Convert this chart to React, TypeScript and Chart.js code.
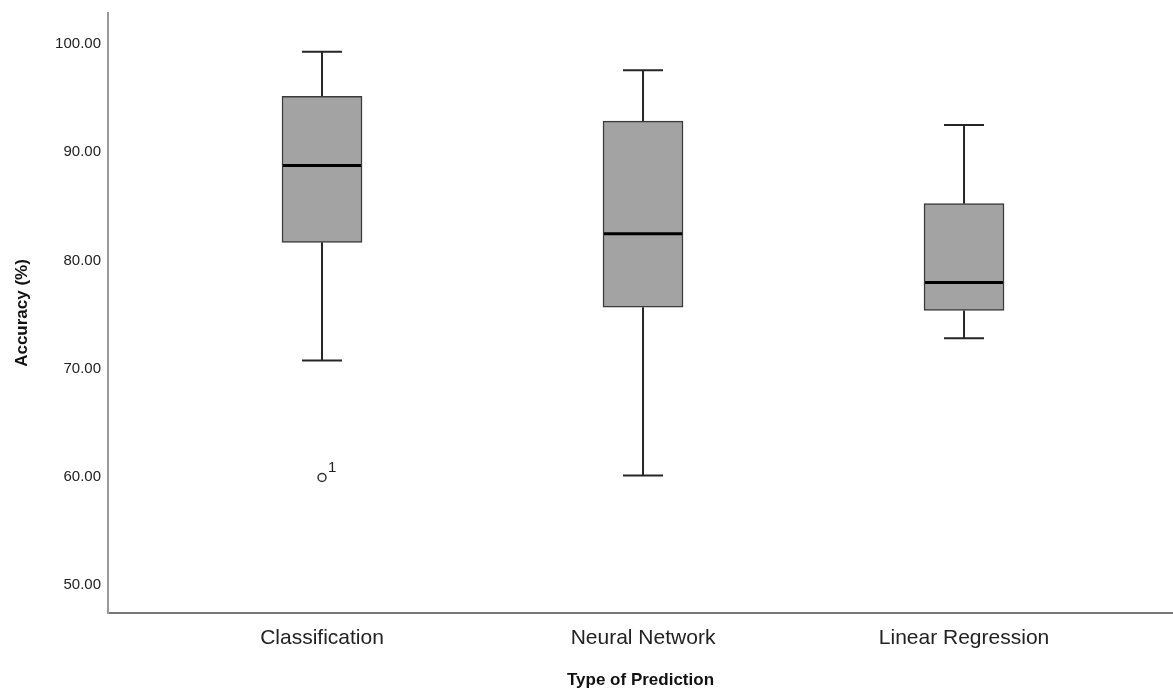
import React, { useEffect, useRef } from "react";
import { Chart, registerables } from "chart.js";

Chart.register(...registerables);

const categories = ["Classification", "Neural Network", "Linear Regression"];
const whiskerLow = [70.76, 60.12, 72.81];
const quartile1 = [81.67, 75.67, 75.37];
const medians = [88.77, 82.47, 77.95];
const quartile3 = [95.17, 92.87, 85.24];
const whiskerHigh = [99.29, 97.57, 92.5];
const outlierX = [1];
const outlierY = [59.94];
const outlierLabels = ["1"];
const yTicks = [50, 60, 70, 80, 90, 100];
const xPositions = [1, 2, 3];

const FONT = "'Liberation Sans', Arial, sans-serif";

const boxPlugin = {
  id: "boxParts",
  beforeDatasetsDraw(chart: any) {
    const { ctx, scales } = chart;
    const x = scales.x;
    const y = scales.y;
    ctx.save();
    ctx.strokeStyle = "#262626";
    ctx.lineWidth = 2;
    const capHalf = 20;
    xPositions.forEach((xv, i) => {
      const px = x.getPixelForValue(xv);
      const pLow = y.getPixelForValue(whiskerLow[i]);
      const pHigh = y.getPixelForValue(whiskerHigh[i]);
      const pQ1 = y.getPixelForValue(quartile1[i]);
      const pQ3 = y.getPixelForValue(quartile3[i]);
      ctx.beginPath();
      ctx.moveTo(px, pQ3);
      ctx.lineTo(px, pHigh);
      ctx.moveTo(px - capHalf, pHigh);
      ctx.lineTo(px + capHalf, pHigh);
      ctx.moveTo(px, pQ1);
      ctx.lineTo(px, pLow);
      ctx.moveTo(px - capHalf, pLow);
      ctx.lineTo(px + capHalf, pLow);
      ctx.stroke();
    });
    ctx.restore();
  },
  afterDatasetsDraw(chart: any) {
    const { ctx, scales } = chart;
    const x = scales.x;
    const y = scales.y;
    ctx.save();
    ctx.strokeStyle = "#000000";
    ctx.lineWidth = 3;
    const half = 40;
    xPositions.forEach((xv, i) => {
      const px = x.getPixelForValue(xv);
      const pm = y.getPixelForValue(medians[i]);
      ctx.beginPath();
      ctx.moveTo(px - half + 1, pm);
      ctx.lineTo(px + half - 1, pm);
      ctx.stroke();
    });
    ctx.fillStyle = "#222222";
    ctx.font = `15px ${FONT}`;
    ctx.textAlign = "left";
    ctx.textBaseline = "middle";
    outlierX.forEach((xv, i) => {
      const px = x.getPixelForValue(xv);
      const py = y.getPixelForValue(outlierY[i]);
      ctx.fillText(outlierLabels[i], px + 6, py - 10);
    });
    ctx.restore();
  },
};

export default function App() {
  const canvasRef = useRef<HTMLCanvasElement | null>(null);

  useEffect(() => {
    document.body.style.margin = "0";
    const canvas = canvasRef.current;
    if (!canvas) return;
    const chart = new Chart(canvas, {
      type: "bar",
      data: {
        datasets: [
          {
            type: "bar",
            data: xPositions.map((xv, i) => ({ x: xv, y: [quartile1[i], quartile3[i]] })) as any,
            backgroundColor: "#a3a3a3",
            borderColor: "#3a3a3a",
            borderWidth: 1.5,
            borderSkipped: false,
            barThickness: 80,
          } as any,
          {
            type: "scatter",
            data: outlierX.map((xv, i) => ({ x: xv, y: outlierY[i] })),
            pointRadius: 4,
            pointBackgroundColor: "#ffffff",
            pointBorderColor: "#333333",
            pointBorderWidth: 1.5,
          } as any,
        ],
      },
      options: {
        animation: false,
        responsive: false,
        devicePixelRatio: 1,
        layout: { autoPadding: false, padding: { top: 13, right: 0, left: 0, bottom: 0 } },
        plugins: { legend: { display: false }, tooltip: { enabled: false } },
        scales: {
          x: {
            type: "linear",
            offset: false,
            min: 0.3333,
            max: 3.651,
            grid: { display: false, drawTicks: false, offset: false },
            border: { display: true, color: "#777777", width: 2 },
            afterBuildTicks: (scale: any) => {
              scale.ticks = xPositions.map((v) => ({ value: v }));
            },
            afterFit: (scale: any) => {
              scale.height = 80;
              scale.paddingLeft = 0;
              scale.paddingRight = 0;
            },
            ticks: {
              autoSkip: false,
              maxRotation: 0,
              padding: 13,
              color: "#222222",
              font: { family: FONT, size: 21 },
              callback: (v: any) => categories[xPositions.indexOf(Number(v))] ?? "",
            },
            title: {
              display: true,
              text: "Type of Prediction",
              color: "#111111",
              font: { family: FONT, size: 17, weight: "bold" },
              padding: { top: 0, bottom: 2 },
            },
          },
          y: {
            type: "linear",
            min: 47.42,
            max: 102.86,
            grid: { display: false, drawTicks: false },
            border: { display: true, color: "#999999", width: 2 },
            afterBuildTicks: (scale: any) => {
              scale.ticks = yTicks.map((v) => ({ value: v }));
            },
            afterFit: (scale: any) => {
              scale.width = 108;
              scale.paddingTop = 0;
              scale.paddingBottom = 0;
            },
            ticks: {
              padding: 7,
              color: "#222222",
              font: { family: FONT, size: 15 },
              callback: (v: any) => Number(v).toFixed(2),
            },
            title: {
              display: true,
              text: "Accuracy (%)",
              color: "#111111",
              font: { family: FONT, size: 17, weight: "bold" },
              padding: { top: 12, bottom: 0 },
            },
          },
        },
      },
      plugins: [boxPlugin],
    });
    return () => chart.destroy();
  }, []);

  return (
    <div style={{ position: "fixed", left: 0, top: 0, width: 1173, height: 693, background: "#ffffff" }}>
      <canvas ref={canvasRef} width={1173} height={693} style={{ display: "block", width: 1173, height: 693 }} />
    </div>
  );
}
